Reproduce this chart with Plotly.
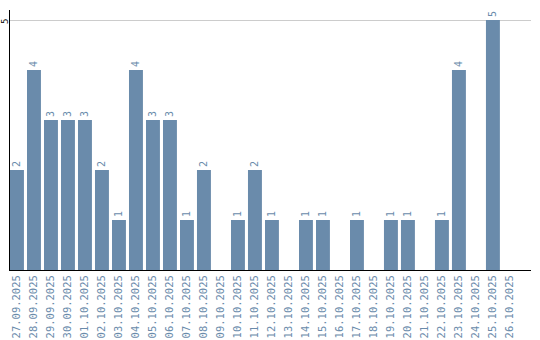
import plotly.graph_objects as go

dates = ["27.09.2025", "28.09.2025", "29.09.2025", "30.09.2025", "01.10.2025",
         "02.10.2025", "03.10.2025", "04.10.2025", "05.10.2025", "06.10.2025",
         "07.10.2025", "08.10.2025", "09.10.2025", "10.10.2025", "11.10.2025",
         "12.10.2025", "13.10.2025", "14.10.2025", "15.10.2025", "16.10.2025",
         "17.10.2025", "18.10.2025", "19.10.2025", "20.10.2025", "21.10.2025",
         "22.10.2025", "23.10.2025", "24.10.2025", "25.10.2025", "26.10.2025"]
counts = [2, 4, 3, 3, 3, 2, 1, 4, 3, 3, 1, 2, 0, 1, 2, 1, 0, 1, 1, 0,
          1, 0, 1, 1, 0, 1, 4, 0, 5, 0]
y_ticks = [5]

blue = "#6a8bab"
mono = "DejaVu Sans Mono"

fig = go.Figure(go.Bar(
    x=dates, y=counts,
    marker=dict(color=blue, line=dict(width=0)),
    text=[str(v) if v else "" for v in counts],
    textposition="outside", textangle=-90,
    textfont=dict(family=mono, size=10, color=blue),
    cliponaxis=False,
))

for t in y_ticks:
    fig.add_annotation(x=0, xref="paper", y=t, yref="y", text=str(t),
                       showarrow=False, textangle=-90, xanchor="center",
                       xshift=-5, yshift=-2, borderpad=0,
                       font=dict(family=mono, size=9, color="black"))

fig.update_layout(
    width=540, height=340,
    margin=dict(l=10, r=9, t=10, b=70, autoexpand=False),
    paper_bgcolor="white", plot_bgcolor="white",
    bargap=0.18,
    showlegend=False,
    xaxis=dict(type="category", range=[-0.41, 30.24], tickangle=-90,
               tickfont=dict(family=mono, size=10.5, color=blue),
               showline=True, linecolor="black", linewidth=1,
               showgrid=False, ticks="", ticklen=0, automargin=False),
    yaxis=dict(range=[0, 5.2], tickvals=y_ticks, showticklabels=False,
               showline=True, linecolor="black", linewidth=1,
               showgrid=True, gridcolor="#cccccc", gridwidth=1,
               zeroline=False, ticks="", automargin=False),
)

fig.write_html("out.html")
